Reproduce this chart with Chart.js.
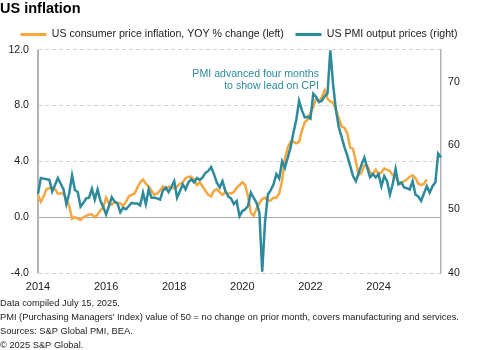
<!DOCTYPE html>
<html>
<head>
<meta charset="utf-8">
<script src="https://cdn.jsdelivr.net/npm/chart.js@4/dist/chart.umd.min.js"></script>
<style>
  html, body { margin: 0; padding: 0; background: #fff; }
  canvas { display: block; }
</style>
</head>
<body>
<canvas id="c" width="478" height="350"></canvas>
<script>
// ---- Data ----
const startYear = 2014;
const monthCount = 143; // Jan 2014 .. Nov 2025 (PMI shifted forward four months)
const monthNames = ['Jan','Feb','Mar','Apr','May','Jun','Jul','Aug','Sep','Oct','Nov','Dec'];
const categories = [];
for (let i = 0; i < monthCount; i++) {
  categories.push(monthNames[i % 12] + ' ' + (startYear + Math.floor(i / 12)));
}
const xTickLabels = ['2014', '2016', '2018', '2020', '2022', '2024'];

// US consumer price inflation, YOY % change (left axis), Jan 2014 .. Jun 2025
const cpiInflation = [
  1.6, 1.1, 1.5, 2.0, 2.1, 2.1, 2.0, 1.7, 1.7, 1.7, 1.3, 0.8,
  -0.1, 0.0, -0.1, -0.2, 0.0, 0.1, 0.2, 0.2, 0.0, 0.2, 0.5, 0.7,
  1.4, 1.0, 0.9, 1.1, 1.0, 1.0, 0.8, 1.1, 1.5, 1.6, 1.7, 2.1,
  2.5, 2.7, 2.4, 2.2, 1.9, 1.6, 1.7, 1.9, 2.2, 2.0, 2.2, 2.1,
  2.1, 2.2, 2.4, 2.5, 2.8, 2.9, 2.9, 2.7, 2.3, 2.5, 2.2, 1.9,
  1.6, 1.5, 1.9, 2.0, 1.8, 1.6, 1.8, 1.7, 1.7, 1.8, 2.1, 2.3,
  2.5, 2.3, 1.5, 0.3, 0.1, 0.6, 1.0, 1.3, 1.4, 1.2, 1.2, 1.4,
  1.4, 1.7, 2.6, 4.2, 5.0, 5.4, 5.4, 5.3, 5.4, 6.2, 6.8, 7.0,
  7.5, 7.9, 8.5, 8.3, 8.6, 9.1, 8.5, 8.3, 8.2, 7.7, 7.1, 6.5,
  6.4, 6.0, 5.0, 4.9, 4.0, 3.0, 3.2, 3.7, 3.7, 3.2, 3.1, 3.4,
  3.1, 3.2, 3.5, 3.4, 3.3, 3.0, 2.9, 2.5, 2.4, 2.6, 2.7, 2.9,
  3.0, 2.8, 2.4, 2.3, 2.4, 2.7
];

// US PMI output prices index (right axis), plotted four months ahead, Jan 2014 .. Nov 2025
const pmiOutputPrices = [
  52.4, 54.9, 54.8, 54.7, 54.6, 52.8, 53.8, 54.9, 54.0, 53.1, 50.8, 52.5,
  55.3, 53.0, 52.7, 50.4, 51.0, 51.7, 51.8, 53.2, 51.5, 53.1, 51.3, 50.3,
  49.2, 50.5, 51.9, 51.2, 50.9, 49.5, 50.2, 50.0, 50.5, 51.0, 50.9, 50.9,
  50.6, 52.6, 50.8, 53.1, 51.8, 51.8, 51.7, 51.5, 52.9, 53.4, 52.7, 53.5,
  54.4, 51.8, 52.8, 53.9, 53.1, 54.2, 54.7, 54.2, 54.9, 54.6, 55.0, 55.7,
  56.0, 56.6, 55.5, 54.2, 53.4, 54.4, 52.9, 52.0, 51.7, 50.8, 51.3, 48.9,
  49.7, 50.0, 50.5, 52.6, 51.8, 51.0, 49.5, 40.2, 48.0, 52.3, 53.0, 53.9,
  55.5, 54.8, 57.5, 56.5, 58.1, 59.7, 62.0, 64.0, 67.0, 65.5, 64.4, 64.5,
  64.2, 68.1, 67.6, 66.8, 67.0, 67.7, 68.1, 74.9, 69.5, 65.5, 62.8, 61.3,
  59.7, 58.4, 56.8, 55.2, 54.4, 55.7, 57.0, 58.1, 56.5, 55.0, 55.5, 55.0,
  55.5, 53.6, 55.2, 54.4, 52.3, 54.0, 56.3, 53.9, 54.2, 53.4, 53.3, 53.1,
  54.4, 52.3, 52.0, 51.3, 52.5, 53.6, 52.6, 53.6, 54.2, 58.7, 58.1
];

const seriesNames = ['US consumer price inflation, YOY % change (left)', 'US PMI output prices (right)'];
const footerLines = [
  'Data compiled July 15, 2025.',
  "PMI (Purchasing Managers' Index) value of 50 = no change on prior month, covers manufacturing and services.",
  'Sources: S&P Global PMI, BEA.',
  '\u00A9 2025 S&P Global.'
];
const annotationLines = ['PMI advanced four months', 'to show lead on CPI'];

// ---- Styling ----
const ORANGE = '#f5a742';
const TEAL = '#2d8a9c';
const FONT = "'Liberation Sans', Arial, Helvetica, sans-serif";

const extrasPlugin = {
  id: 'extras',
  beforeDatasetsDraw(chart) {
    const {ctx, chartArea} = chart;
    const y = chart.scales.y;
    ctx.save();
    // zero line
    const y0 = Math.round(y.getPixelForValue(0)) + 0.5;
    ctx.strokeStyle = '#a9a9a9';
    ctx.lineWidth = 1;
    ctx.beginPath();
    ctx.moveTo(chartArea.left, y0);
    ctx.lineTo(chartArea.right, y0);
    ctx.stroke();
    // left axis line
    ctx.strokeStyle = '#b3b3b3';
    ctx.lineWidth = 2;
    ctx.beginPath();
    ctx.moveTo(chartArea.left, chartArea.top);
    ctx.lineTo(chartArea.left, chartArea.bottom);
    ctx.stroke();
    ctx.restore();
  },
  afterDraw(chart) {
    const {ctx} = chart;
    const x = chart.scales.x;
    const y = chart.scales.y;
    ctx.save();
    // annotation
    ctx.font = '10.6px ' + FONT;
    ctx.fillStyle = TEAL;
    ctx.textAlign = 'right';
    ctx.textBaseline = 'middle';
    const ax = x.getPixelForValue(99);
    const ay = y.getPixelForValue(10.25);
    annotationLines.forEach((t, i) => ctx.fillText(t, ax, ay + i * 11.6));
    // footer
    ctx.font = '9.3px ' + FONT;
    ctx.fillStyle = '#222';
    ctx.textAlign = 'left';
    const fy = [303, 317.5, 331.5, 345];
    footerLines.forEach((t, i) => ctx.fillText(t, 0, fy[i]));
    ctx.restore();
  }
};

new Chart(document.getElementById('c'), {
  type: 'line',
  data: {
    labels: categories,
    datasets: [
      {
        label: seriesNames[0],
        data: cpiInflation,
        yAxisID: 'y',
        borderColor: ORANGE,
        backgroundColor: ORANGE,
        borderWidth: 2.5,
        pointRadius: 0,
        tension: 0,
        order: 1
      },
      {
        label: seriesNames[1],
        data: pmiOutputPrices,
        yAxisID: 'y2',
        borderColor: TEAL,
        backgroundColor: TEAL,
        borderWidth: 2.5,
        pointRadius: 0,
        tension: 0,
        order: 0
      }
    ]
  },
  options: {
    responsive: false,
    animation: false,
    devicePixelRatio: 1,
    layout: { padding: { left: 0, right: 0, top: 1.5, bottom: 54.5 } },
    plugins: {
      tooltip: { enabled: false },
      title: {
        display: true,
        text: 'US inflation',
        align: 'start',
        color: '#000',
        font: { family: FONT, size: 14.5, weight: 'bold', lineHeight: 1.1 },
        padding: { top: 0, bottom: 0 }
      },
      legend: {
        display: true,
        position: 'top',
        align: 'center',
        labels: {
          boxWidth: 26,
          boxHeight: 3,
          padding: 11.7,
          color: '#222',
          font: { family: FONT, size: 10.6 },
          sort: (a, b) => a.datasetIndex - b.datasetIndex,
          generateLabels(chart) {
            const items = Chart.defaults.plugins.legend.labels.generateLabels(chart);
            items.forEach(it => { it.fillStyle = it.strokeStyle; it.lineWidth = 0; });
            return items;
          }
        }
      }
    },
    scales: {
      x: {
        type: 'category',
        offset: false,
        grid: { display: false, drawTicks: false },
        border: { display: false },
        afterBuildTicks(scale) {
          scale.ticks = scale.ticks.filter(t => {
            const lab = categories[t.value];
            return lab.startsWith('Jan') && xTickLabels.includes(lab.slice(4));
          });
        },
        afterFit(scale) { scale.height = 22.5; },
        ticks: {
          autoSkip: false,
          maxRotation: 0,
          minRotation: 0,
          padding: 7,
          color: '#222',
          font: { family: FONT, size: 11 },
          callback(value) { return categories[value].slice(4); }
        }
      },
      y: {
        position: 'left',
        min: -4,
        max: 12,
        afterFit(scale) { scale.width = 38; },
        grid: {
          drawTicks: false,
          lineWidth: 1,
          color: ctx => (ctx.tick && ctx.tick.value === 0) ? 'rgba(0,0,0,0)' : '#d4d4d4'
        },
        border: { display: false, dash: [4, 3] },
        ticks: {
          stepSize: 4,
          padding: 9,
          color: '#222',
          font: { family: FONT, size: 10.6 },
          callback: v => v.toFixed(1)
        }
      },
      y2: {
        position: 'right',
        min: 40,
        max: 75,
        afterFit(scale) { scale.width = 37; },
        grid: { display: false, drawTicks: false },
        border: { display: true, color: '#b3b3b3', width: 1.5 },
        ticks: {
          stepSize: 10,
          includeBounds: false,
          padding: 7,
          color: '#222',
          font: { family: FONT, size: 10.6 }
        }
      }
    }
  },
  plugins: [extrasPlugin]
});
</script>
</body>
</html>
